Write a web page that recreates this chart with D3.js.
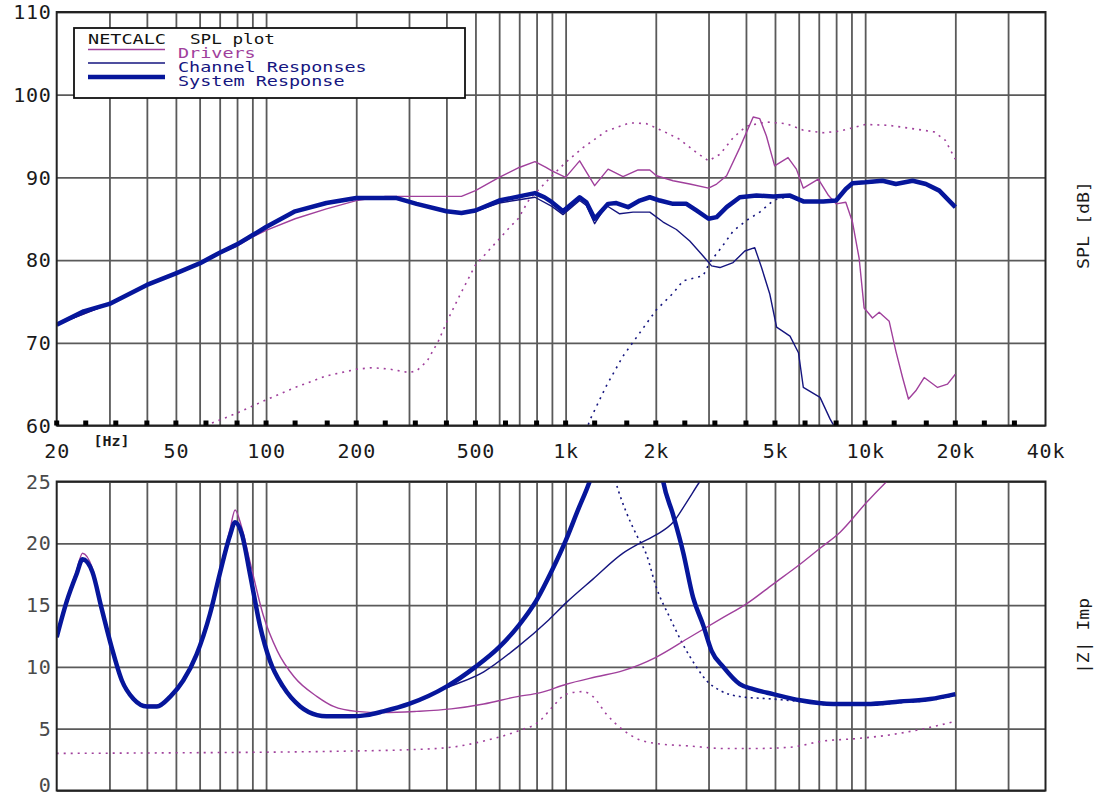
<!DOCTYPE html>
<html><head><meta charset="utf-8">
<script src="https://cdn.jsdelivr.net/npm/d3@7/dist/d3.min.js"></script>
<style>
html,body{margin:0;padding:0;background:#fff;}
svg{display:block;}
</style></head>
<body>
<script>
// ---------- DATA ----------
// x-axis
const xTickLabels = [20, 50, 100, 200, 500, 1000, 2000, 5000, 10000, 20000, 40000];
const xTickText = ["20", "50", "100", "200", "500", "1k", "2k", "5k", "10k", "20k", "40k"];
const xGridFreqs = [30,40,50,60,70,80,90,100,200,300,400,500,600,700,800,900,1000,2000,3000,4000,5000,6000,7000,8000,9000,10000,20000,30000];
const xTickMarks = [20,25,31.5,40,50,63,80,100,125,160,200,250,315,400,500,630,800,1000,1250,1600,2000,2500,3150,4000,5000,6300,8000,10000,12500,16000,20000,25000,31500];
const splTicks = [60,70,80,90,100,110];
const impTicks = [0,5,10,15,20,25];

// SPL: system response (thick)
const splSysF = [20,24.6,30,40,50,60,70,80,90,100,125,159,200,273,318,400,449,500,600,700,790,850,900,980,1114,1173,1250,1386,1477,1616,1768,1910,2062,2285,2531,2733,3000,3193,3448,3816,4337,4933,5612,6217,7245,8000,8617,9072,10000,11430,12662,14400,15950,17680,20000];
const splSysV = [72.2,73.8,74.7,77,78.4,79.6,80.9,81.9,83,84,85.9,86.9,87.5,87.5,86.8,85.9,85.7,86,87.2,87.7,88.1,87.6,87,85.9,87.6,87,85,86.8,86.9,86.4,87.2,87.6,87.2,86.8,86.8,86,85,85.2,86.4,87.6,87.8,87.7,87.8,87.1,87.1,87.2,88.6,89.3,89.4,89.6,89.2,89.6,89.2,88.4,86.4];

// SPL: woofer driver (magenta solid)
const splWooF = [20,30,40,50,60,70,80,90,100,125,159,200,250,300,400,449,500,600,700,790,860,900,1000,1114,1250,1386,1555,1745,1910,2010,2285,2597,3000,3193,3448,3816,4229,4449,4681,4987,5527,5894,6217,6976,7548,8000,8617,9072,9549,9923,10580,11140,12030,12662,13330,13950,14760,15740,17450,18830,20000];
const splWooV = [72.2,74.7,77,78.4,79.6,80.8,81.7,82.8,83.6,85,86.2,87.2,87.7,87.7,87.7,87.7,88.4,90,91.2,91.9,91.2,90.8,90,92,89,91,90.1,90.9,90.9,90.2,89.6,89.2,88.7,89.2,90.2,93.6,97.3,97.1,95,91.4,92.4,91,88.7,89.8,87.8,86.8,87,84.6,80.2,74.2,73,73.7,72.6,69,65.8,63.2,64.2,65.8,64.6,65,66.2];

// SPL: tweeter driver (magenta dotted)
const splTwF = [60,65,80,100,125,159,200,227,260,300,318,345,376,402,444,500,588,652,694,758,818,900,1000,1143,1367,1637,1860,2116,2404,2733,3000,3275,3624,4016,4681,5458,6217,7245,8250,10000,12000,15000,17000,18500,20000];
const splTwV = [59.5,60.2,61.5,63.1,64.6,66,66.8,67,66.8,66.4,66.6,67.8,70.2,72.6,75.8,79.4,82.2,84,85,87.4,88.6,90.2,91.8,93.6,95.6,96.6,96.5,95.6,94.6,93,92,92.8,94.8,96.2,96.7,96.5,95.7,95.4,95.6,96.4,96.3,95.8,95.5,94.5,92.2];

// SPL: woofer channel (blue thin)
const splWooChF = [20,30,40,50,60,70,80,100,125,159,200,273,318,400,449,500,600,700,790,900,980,1114,1173,1250,1368,1515,1679,1910,2116,2343,2597,2877,3071,3275,3624,3966,4280,4509,4804,5062,5612,5990,6217,7070,7633,7800,8200];
const splWooChV = [72.2,74.7,77,78.4,79.6,80.9,81.9,84,85.9,86.9,87.5,87.5,86.8,85.9,85.7,85.9,86.9,87.3,87.6,86.5,85.5,87.2,86.6,84.4,86.6,85.6,85.8,85.8,84.6,83.7,82.3,80.5,79.3,79.1,79.7,81.1,81.5,79.1,75.9,71.9,70.8,68.8,64.6,63.4,60.8,60.2,58];

// SPL: tweeter channel (blue dotted)
const splTwChF = [1150,1203,1368,1555,1768,2010,2285,2467,2877,3025,3310,3624,4016,4449,4932,5190,5612,6217,7245,8000,8617,9072,10000,11430,12662,14400,15950,17680,20000];
const splTwChV = [58.5,60.6,64.8,68.4,71.2,74,76,77.5,78.1,79.7,81.5,83.5,84.8,85.8,87.2,87.5,87.6,87,87,87.1,88.5,89.2,89.3,89.5,89.1,89.5,89.1,88.3,86.3];

// Impedance: system (thick)
const impSysF = [20,21.6,23.3,24.4,26.3,28.2,30.5,33,36.1,40,43.2,47.9,52.9,58.6,65,70,75.9,78.8,82.9,88.4,95.3,103,114,130,148,159,190,217,246,300,400,500,600,700,800,900,1000,1100,1203,1350,1700,2000,2117,2285,2467,2665,2877,3071,3360,3816,4229,4932,6060,7820,10100,13050,16500,20000];
const impSysV = [12.4,15.3,17.5,18.7,17.7,14.8,11.6,8.9,7.4,6.8,6.8,7.6,8.9,11,14.3,17.5,20.7,21.7,20.8,17.5,13.4,10.5,8.4,6.8,6.1,6.0,6.0,6.1,6.4,7.0,8.4,10,11.6,13.4,15.4,17.8,20.2,22.7,25,29,33,29,25,22.3,19.3,15.6,13.4,11.3,10,8.6,8.2,7.8,7.3,7,7,7.2,7.4,7.8];

// Impedance: woofer driver (magenta solid)
const impWooF = [20,21.6,23.3,24.4,26.3,28.2,30.5,33,36.1,40,43.2,47.9,52.9,58.6,65,70,75.9,78.8,82.9,88.4,97.8,109,124,148,168,200,246,318,415,533,690,818,1005,1267,1555,2010,2597,3360,4016,4932,6060,7070,8250,10100,11800,13000];
const impWooV = [12.4,15.4,17.8,19.2,18,15,11.8,9.1,7.5,6.9,6.9,7.7,9,11.1,14.5,17.8,21.2,22.7,21.3,18.5,14.2,11.3,9.2,7.6,6.8,6.4,6.3,6.4,6.6,7.0,7.6,7.9,8.6,9.2,9.7,10.8,12.4,14,15.1,16.7,18.3,19.6,20.9,23.3,25,26];

// Impedance: tweeter driver (magenta dotted)
const impTwF = [20,50,100,200,300,415,533,690,818,907,1005,1143,1234,1367,1555,1768,2010,2597,3360,4337,5612,7245,9350,12100,15700,20000];
const impTwV = [3.0,3.05,3.1,3.2,3.3,3.5,4.0,4.8,5.6,6.8,7.8,8.0,7.6,6.2,4.9,4.1,3.8,3.6,3.4,3.4,3.5,4.0,4.2,4.5,5.0,5.6];

// Impedance: woofer network (blue thin)
const impWooNetF = [20,21.6,23.3,24.4,26.3,28.2,30.5,33,36.1,40,43.2,47.9,52.9,58.6,65,70,75.9,78.8,82.9,88.4,95.3,103,114,130,148,159,190,217,246,300,400,533,690,878,1005,1234,1555,1768,2010,2285,2531,2806,3000];
const impWooNetV = [12.4,15.3,17.5,18.7,17.7,14.8,11.6,8.9,7.4,6.8,6.8,7.6,8.9,11,14.3,17.5,20.7,21.7,20.8,17.5,13.4,10.5,8.4,6.8,6.1,6.0,6.0,6.1,6.4,7.0,8.3,9.6,11.6,13.8,15.2,17.1,19.2,20,20.7,21.7,23.3,25,26];

// Impedance: tweeter network (blue dotted)
const impTwNetF = [1400,1477,1595,1723,1861,2010,2227,2467,2733,2951,3275,3816,4932,6060,7820,10100,13050,16500,20000];
const impTwNetV = [27,24.8,22.5,20.7,19.1,16.4,14,11.8,10,8.9,8.1,7.6,7.4,7.2,6.9,6.9,7.1,7.3,7.7];

const legendLabels = ["Drivers", "Channel Responses", "System Response"];
// ---------- END DATA ----------

const W = 1099, H = 798;
const MAG = "#a0409c", NAVY = "#15157f", THICK = "#06169b", GRID = "#5a5a5a";
const L = 56.7, R = 1045.5;
const topY0 = 12, topY1 = 425.5, botY0 = 481.5, botY1 = 790.5;
const MONO = "'DejaVu Sans Mono', 'Liberation Mono', monospace";

const svg = d3.select("body").append("svg").attr("width", W).attr("height", H);

const x = d3.scaleLog().domain([20, 40000]).range([L, R]);
const ySpl = d3.scaleLinear().domain([60, 110]).range([topY1, topY0]);
const yImp = d3.scaleLinear().domain([0, 25]).range([botY1, botY0]);

const defs = svg.append("defs");
defs.append("clipPath").attr("id","clipTop").append("rect")
  .attr("x", L).attr("y", topY0).attr("width", R - L).attr("height", topY1 - topY0);
defs.append("clipPath").attr("id","clipBot").append("rect")
  .attr("x", L).attr("y", botY0).attr("width", R - L).attr("height", botY1 - botY0);

function panel(y, y0, y1, ticks, labelColor, lowLift) {
  const g = svg.append("g");
  g.append("g").attr("transform", `translate(0,${y1})`)
    .call(d3.axisBottom(x).tickValues(xGridFreqs).tickSize(-(y1 - y0)).tickFormat(""))
    .call(a => a.select(".domain").remove())
    .call(a => a.selectAll("line").attr("stroke", GRID).attr("stroke-width", 1.8));
  g.append("g").attr("transform", `translate(${L},0)`)
    .call(d3.axisLeft(y).tickValues(ticks).tickSize(-(R - L)).tickFormat(""))
    .call(a => a.select(".domain").remove())
    .call(a => a.selectAll("line").attr("stroke", GRID).attr("stroke-width", 1.8));
  g.append("g").attr("transform", `translate(${L - 5},0)`)
    .call(d3.axisLeft(y).tickValues(ticks).tickSize(0).tickPadding(0))
    .call(a => a.select(".domain").remove())
    .call(a => a.selectAll("text").attr("font-family", MONO).attr("font-size", 20)
      .attr("fill", labelColor).attr("letter-spacing", 0.8)
      .attr("dy", (d, i) => (lowLift && i === 0) ? "0.05em" : "0.33em"));
  return g;
}
panel(ySpl, topY0, topY1, splTicks, "#1a1a1a", false);
panel(yImp, botY0, botY1, impTicks, "#4a4a4a", true);

function drawCurve(clip, y, fs, vs, color, width, dash, curve) {
  const pts = fs.map((f, i) => [f, vs[i]]);
  const line = d3.line().x(d => x(d[0])).y(d => y(d[1])).curve(curve || d3.curveLinear);
  svg.append("path").attr("clip-path", `url(#${clip})`)
    .attr("d", line(pts)).attr("fill", "none").attr("stroke", color)
    .attr("stroke-width", width).attr("stroke-linejoin", "round")
    .attr("stroke-dasharray", dash || null);
}
const smooth = d3.curveMonotoneX;
// top: SPL
drawCurve("clipTop", ySpl, splTwF, splTwV, MAG, 1.6, "2,5");
drawCurve("clipTop", ySpl, splTwChF, splTwChV, NAVY, 1.6, "2,5");
drawCurve("clipTop", ySpl, splWooF, splWooV, MAG, 1.4);
drawCurve("clipTop", ySpl, splWooChF, splWooChV, NAVY, 1.4);
drawCurve("clipTop", ySpl, splSysF, splSysV, THICK, 4.5);
// bottom: impedance
drawCurve("clipBot", yImp, impTwF, impTwV, MAG, 1.6, "2,5", smooth);
drawCurve("clipBot", yImp, impTwNetF, impTwNetV, NAVY, 1.6, "2,4", smooth);
drawCurve("clipBot", yImp, impWooF, impWooV, MAG, 1.4, null, smooth);
drawCurve("clipBot", yImp, impWooNetF, impWooNetV, NAVY, 1.4, null, smooth);
drawCurve("clipBot", yImp, impSysF, impSysV, THICK, 4.5, null, smooth);

// frames
[[topY0, topY1], [botY0, botY1]].forEach(([a, b]) => {
  svg.append("rect").attr("x", L).attr("y", a).attr("width", R - L).attr("height", b - a)
    .attr("fill", "none").attr("stroke", "#222").attr("stroke-width", 2);
});

// tick squares on top plot bottom axis
svg.append("g").selectAll("rect").data(xTickMarks).join("rect")
  .attr("x", d => x(d) - 2.5).attr("y", topY1 - 5).attr("width", 5).attr("height", 5)
  .attr("fill", "#000");

// x labels
svg.append("g").attr("transform", `translate(0,${topY1 + 14})`)
  .call(d3.axisBottom(x).tickValues(xTickLabels).tickSize(0).tickPadding(4)
    .tickFormat((d, i) => xTickText[i]))
  .call(a => a.select(".domain").remove())
  .call(a => a.selectAll("text").attr("font-family", MONO).attr("font-size", 20)
    .attr("fill", "#1a1a1a").attr("letter-spacing", 0.8));
svg.append("text").attr("x", x(30.5)).attr("y", topY1 + 20).attr("text-anchor", "middle")
  .attr("font-family", MONO).attr("font-size", 14).attr("font-weight", "bold").attr("fill", "#1a1a1a")
  .attr("textLength", 36).attr("lengthAdjust", "spacingAndGlyphs")
  .text("[Hz]");

// right axis titles
svg.append("text").attr("transform", `translate(1089,225) rotate(-90)`).attr("text-anchor", "middle")
  .attr("font-family", MONO).attr("font-size", 15).attr("fill", "#1a1a1a")
  .attr("textLength", 88).attr("lengthAdjust", "spacingAndGlyphs").text("SPL [dB]");
svg.append("text").attr("transform", `translate(1089,636) rotate(-90)`).attr("text-anchor", "middle")
  .attr("font-family", MONO).attr("font-size", 15).attr("fill", "#1a1a1a")
  .attr("textLength", 76).attr("lengthAdjust", "spacingAndGlyphs").text("|Z| Imp");

// legend
const lg = svg.append("g");
lg.append("rect").attr("x", 74).attr("y", 28).attr("width", 391).attr("height", 70)
  .attr("fill", "#fff").attr("stroke", "#111").attr("stroke-width", 1.8);
lg.append("text").attr("x", 88).attr("y", 44).attr("font-family", MONO).attr("font-size", 13.5)
  .attr("fill", "#111").attr("textLength", 78).attr("lengthAdjust", "spacingAndGlyphs").text("NETCALC");
lg.append("text").attr("x", 190).attr("y", 44).attr("font-family", MONO).attr("font-size", 13.5)
  .attr("fill", "#111").attr("textLength", 85).attr("lengthAdjust", "spacingAndGlyphs").text("SPL plot");
const legendStyle = [{c: MAG, w: 1.4, y: 49.5, ty: 58}, {c: NAVY, w: 1.4, y: 63, ty: 72}, {c: THICK, w: 4.5, y: 77, ty: 86}];
legendLabels.forEach((t, i) => {
  const s = legendStyle[i];
  lg.append("line").attr("x1", 88).attr("x2", 165).attr("y1", s.y).attr("y2", s.y)
    .attr("stroke", s.c).attr("stroke-width", s.w);
  lg.append("text").attr("x", 178).attr("y", s.ty).attr("font-family", MONO).attr("font-size", 13.5)
    .attr("fill", i === 0 ? MAG : NAVY).attr("textLength", t.length * 11.1)
    .attr("lengthAdjust", "spacingAndGlyphs").text(t);
});
</script>
</body></html>
